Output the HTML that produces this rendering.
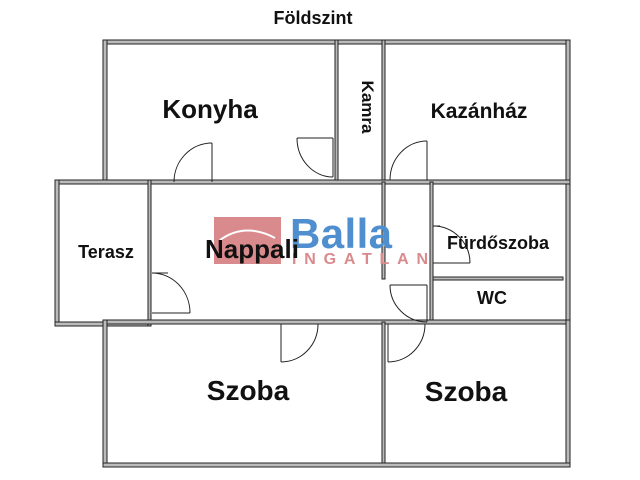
<!DOCTYPE html>
<html><head><meta charset="utf-8"><style>
html,body{margin:0;padding:0;background:#fff;width:640px;height:480px;overflow:hidden}
text{font-family:"Liberation Sans",sans-serif;font-weight:bold;fill:#111}
</style></head><body>
<svg width="640" height="480" viewBox="0 0 640 480" xmlns="http://www.w3.org/2000/svg">
<g fill="#bbb" stroke="#222" stroke-width="1">
<rect x="103" y="40" width="467" height="4"/>
<rect x="103" y="40" width="4" height="144"/>
<rect x="566" y="40" width="4" height="286"/>
<rect x="335" y="40" width="3" height="142"/>
<rect x="382" y="40" width="3" height="142"/>
<rect x="55" y="180" width="515" height="4"/>
<rect x="55" y="180" width="4" height="146"/>
<rect x="55" y="322" width="96" height="4"/>
<rect x="148" y="180" width="3" height="146"/>
<rect x="382" y="182" width="3" height="97"/>
<rect x="430" y="182" width="3" height="142"/>
<rect x="433" y="277" width="130" height="3"/>
<rect x="103" y="320" width="467" height="4"/>
<rect x="103" y="320" width="4" height="147"/>
<rect x="566" y="320" width="4" height="147"/>
<rect x="103" y="463" width="467" height="4"/>
<rect x="382" y="322" width="3" height="141"/>
</g>
<g fill="none" stroke="#222" stroke-width="1">
<line x1="212" y1="143" x2="212" y2="182"/><path d="M174 182 A38 39 0 0 1 212 143"/>
<line x1="297" y1="138" x2="333" y2="138"/><line x1="333" y1="138" x2="333" y2="177"/><path d="M297 138 A36 39 0 0 0 333 177"/>
<line x1="427" y1="141" x2="427" y2="180"/><path d="M390 180 A37 39 0 0 1 427 141"/>
<line x1="152" y1="273" x2="168" y2="273"/><path d="M152 273 A38 40 0 0 1 190 313"/><line x1="152" y1="313" x2="190" y2="313"/>
<line x1="433" y1="226" x2="440" y2="226"/><path d="M433 226 A37 37 0 0 1 470 263"/><line x1="433" y1="263" x2="470" y2="263"/>
<line x1="390" y1="285" x2="427" y2="285"/><line x1="427" y1="285" x2="427" y2="322"/><path d="M390 285 A37 37 0 0 0 427 322"/>
<line x1="281" y1="324" x2="281" y2="362"/><path d="M281 362 A37 38 0 0 0 318 324"/>
<line x1="388" y1="324" x2="388" y2="362"/><path d="M388 362 A37 38 0 0 0 425 324"/>
</g>
<rect x="214" y="217" width="67" height="47" fill="#d98a8c"/>
<path d="M220 240 Q245 222 275 238" stroke="#fff" stroke-width="2" fill="none"/>
<text x="290" y="248" font-size="42" textLength="102" style="fill:#4f8fcf">Balla</text>
<text x="292" y="264" font-size="16" textLength="136" style="fill:#d98a8c">INGATLAN</text>
<text x="313" y="24" font-size="18" text-anchor="middle">Földszint</text>
<text x="210" y="118" font-size="26" text-anchor="middle">Konyha</text>
<text x="479" y="118" font-size="21" text-anchor="middle">Kazánház</text>
<text transform="translate(362,107) rotate(90)" font-size="17" text-anchor="middle">Kamra</text>
<text x="106" y="258" font-size="18" text-anchor="middle">Terasz</text>
<text x="252" y="258" font-size="26" text-anchor="middle">Nappali</text>
<text x="498" y="249" font-size="18" text-anchor="middle">Fürdőszoba</text>
<text x="492" y="304" font-size="18" text-anchor="middle">WC</text>
<text x="248" y="400" font-size="28" text-anchor="middle">Szoba</text>
<text x="466" y="401" font-size="28" text-anchor="middle">Szoba</text>
</svg>
</body></html>
